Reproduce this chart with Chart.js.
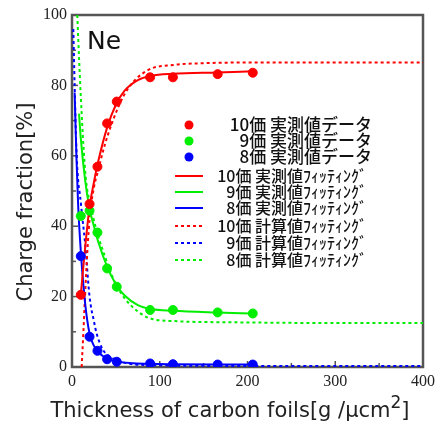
<!DOCTYPE html>
<html>
<head>
<meta charset="utf-8">
<script src="https://cdn.jsdelivr.net/npm/chart.js@4.4.1/dist/chart.umd.min.js"></script>
<style>
  html, body { margin: 0; padding: 0; background: #fff; }
  #wrap { width: 440px; height: 423px; }
</style>
</head>
<body>
<div id="wrap"><canvas id="myChart" width="440" height="423"></canvas></div>
<script>
// measured thickness of the foils
const thickness = [10, 20, 29, 40, 51, 89, 115, 166, 206];
const measured10 = [20.5, 46.3, 56.9, 69.2, 75.4, 82.3, 82.3, 83.2, 83.6];
const measured9 = [42.9, 44.4, 38.2, 28.0, 22.8, 16.2, 16.2, 15.5, 15.2];
const measured8 = [31.5, 8.6, 4.6, 2.2, 1.5, 1.0, 0.8, 0.7, 0.7];

// fitting of measured values (solid)
const fit10X = [10, 15, 20, 25, 30, 40, 50, 60, 75, 90, 115, 165, 206];
const fit10Y = [20.5, 34, 45.5, 52.5, 58.5, 68, 74.5, 78.5, 81.5, 82.7, 83.3, 83.7, 84];
const fit9X = [8, 10, 15, 20, 25, 30, 40, 50, 60, 75, 90, 115, 165, 206];
const fit9Y = [72, 65, 53, 45, 40, 35.5, 28.5, 23.5, 20.3, 17.6, 16.5, 16, 15.5, 15.2];
const fit8X = [3, 5, 7, 10, 15, 20, 25, 30, 40, 50, 70, 90, 115, 165, 206];
const fit8Y = [78, 60, 46, 33, 18, 9.5, 6, 4.2, 2.4, 1.6, 1.1, 0.9, 0.8, 0.7, 0.7];

// fitting of calculated values (dotted)
const calc10X = [11, 13, 16, 20, 25, 30, 35, 41, 53, 65, 87, 115, 150, 200, 300, 400];
const calc10Y = [0, 10, 26, 42, 51, 56, 61, 66, 74, 79.5, 84.4, 85.8, 86.3, 86.5, 86.5, 86.5];
const calc9X = [1.5, 3, 5, 7, 9, 12, 15, 20, 25, 28, 35, 45, 55, 70, 100, 200, 400];
const calc9Y = [96, 80, 62, 53, 49, 42, 35, 20, 13, 9.6, 5, 2.7, 1.5, 0.8, 0.5, 0.3, 0.3];
const calc8X = [6, 8, 10, 13, 16, 20, 24, 30, 34, 43, 50, 60, 75, 89, 120, 183, 300, 400];
const calc8Y = [100, 88, 77, 63, 53, 47, 42.7, 37, 34, 27.6, 23.5, 19.5, 15.8, 13.8, 13, 12.7, 12.5, 12.5];

const legendLabels = [
  "10価 実測値データ", "9価 実測値データ", "8価 実測値データ",
  "10価 実測値ﾌｨｯﾃｨﾝｸﾞ", "9価 実測値ﾌｨｯﾃｨﾝｸﾞ", "8価 実測値ﾌｨｯﾃｨﾝｸﾞ",
  "10価 計算値ﾌｨｯﾃｨﾝｸﾞ", "9価 計算値ﾌｨｯﾃｨﾝｸﾞ", "8価 計算値ﾌｨｯﾃｨﾝｸﾞ",
];

const RED = "#ff0000";
const GREEN = "#00ee00";
const BLUE = "#0000ff";
const TITLE_FONT = "'DejaVu Sans', 'Liberation Sans', sans-serif";

function pts(xs, ys) {
  return xs.map((x, i) => ({ x: x, y: ys[i] }));
}

function dots(xs, ys, color, label) {
  return {
    label: label,
    data: pts(xs, ys),
    showLine: false,
    pointRadius: 4.5,
    pointBackgroundColor: color,
    pointBorderColor: color,
    borderColor: color,
    backgroundColor: color,
  };
}

function curve(xs, ys, color, label, dash) {
  return {
    label: label,
    data: pts(xs, ys),
    showLine: true,
    pointRadius: 0,
    borderColor: color,
    backgroundColor: color,
    borderWidth: 2,
    borderDash: dash,
    cubicInterpolationMode: "monotone",
    fill: false,
  };
}

const datasets = [
  dots(thickness, measured10, RED, legendLabels[0]),
  dots(thickness, measured9, GREEN, legendLabels[1]),
  dots(thickness, measured8, BLUE, legendLabels[2]),
  curve(fit10X, fit10Y, RED, legendLabels[3], []),
  curve(fit9X, fit9Y, GREEN, legendLabels[4], []),
  curve(fit8X, fit8Y, BLUE, legendLabels[5], []),
  curve(calc10X, calc10Y, RED, legendLabels[6], [3, 3]),
  curve(calc9X, calc9Y, BLUE, legendLabels[7], [3, 3]),
  curve(calc8X, calc8Y, GREEN, legendLabels[8], [3, 3]),
];

// frame and inward tick marks
const framePlugin = {
  id: "frame",
  beforeDatasetsDraw(chart) {
    const { ctx, chartArea: a, scales } = chart;
    ctx.save();
    ctx.strokeStyle = "#555";
    ctx.lineWidth = 1.5;
    for (let v = 0; v <= 100; v += 10) {
      const py = scales.y.getPixelForValue(v);
      const len = v % 20 === 0 ? 6 : 4;
      ctx.beginPath();
      ctx.moveTo(a.left, py);
      ctx.lineTo(a.left + len, py);
      ctx.stroke();
    }
    for (let v = 0; v <= 400; v += 50) {
      const px = scales.x.getPixelForValue(v);
      const len = v % 100 === 0 ? 6 : 4;
      ctx.beginPath();
      ctx.moveTo(px, a.bottom);
      ctx.lineTo(px, a.bottom - len);
      ctx.stroke();
    }
    ctx.lineWidth = 2.5;
    ctx.strokeStyle = "#555";
    ctx.strokeRect(a.left, a.top, a.right - a.left, a.bottom - a.top);
    ctx.restore();
  },
};

// titles, "Ne" label and legend
const textPlugin = {
  id: "texts",
  afterDraw(chart) {
    const { ctx, chartArea: a } = chart;
    ctx.save();
    ctx.fillStyle = "#111";

    ctx.font = "25px " + TITLE_FONT;
    ctx.textBaseline = "alphabetic";
    ctx.textAlign = "left";
    ctx.fillText("Ne", 87, 49);

    // y title
    ctx.save();
    ctx.translate(32, (a.top + a.bottom) / 2 + 11);
    ctx.rotate(-Math.PI / 2);
    ctx.textAlign = "center";
    ctx.font = "21px " + TITLE_FONT;
    ctx.fillStyle = "#222";
    ctx.fillText("Charge fraction[%]", 0, 0);
    ctx.restore();

    // x title with superscript
    ctx.font = "21px " + TITLE_FONT;
    ctx.fillStyle = "#222";
    const main = "Thickness of carbon foils[g /μcm";
    const wMain = ctx.measureText(main).width;
    ctx.font = "17px " + TITLE_FONT;
    const wSup = ctx.measureText("2").width;
    ctx.font = "21px " + TITLE_FONT;
    const wEnd = ctx.measureText("]").width;
    const total = wMain + wSup + wEnd;
    const x0 = 230 - total / 2;
    const base = 417;
    ctx.fillText(main, x0, base);
    ctx.font = "17px " + TITLE_FONT;
    ctx.fillText("2", x0 + wMain, base - 9);
    ctx.font = "21px " + TITLE_FONT;
    ctx.fillText("]", x0 + wMain + wSup, base);

    // legend
    const rows = [125, 141, 157, 176, 192, 208, 226, 243, 260];
    ctx.textBaseline = "middle";
    ctx.textAlign = "right";
    chart.data.datasets.forEach((ds, i) => {
      const y = rows[i];
      if (ds.showLine === false) {
        ctx.beginPath();
        ctx.fillStyle = ds.pointBackgroundColor;
        ctx.arc(189, y, 4.5, 0, Math.PI * 2);
        ctx.fill();
      } else {
        ctx.beginPath();
        ctx.strokeStyle = ds.borderColor;
        ctx.lineWidth = 2;
        ctx.setLineDash(ds.borderDash || []);
        ctx.moveTo(175, y);
        ctx.lineTo(203, y);
        ctx.stroke();
        ctx.setLineDash([]);
      }
      ctx.fillStyle = "#111";
      ctx.font = (i < 3 ? "500 17px" : "500 16px") + " 'Noto Sans CJK JP', sans-serif";
      ctx.fillText(ds.label, i < 3 ? 372 : 367, y);
    });
    ctx.restore();
  },
};

Chart.defaults.font.family = "'Liberation Serif', 'Times New Roman', serif";
Chart.defaults.font.size = 16;
Chart.defaults.color = "#222";

const ctx = document.getElementById("myChart");
const myChart = new Chart(ctx, {
  type: "scatter",
  data: { datasets: datasets },
  options: {
    responsive: false,
    animation: false,
    events: [],
    layout: { padding: { top: 15, right: 16, left: 0, bottom: 0 } },
    plugins: {
      legend: { display: false },
      tooltip: { enabled: false },
    },
    scales: {
      x: {
        type: "linear",
        min: 0,
        max: 400,
        ticks: { stepSize: 100, padding: 5 },
        grid: { display: false, drawTicks: false },
        border: { display: false },
        afterFit(scale) { scale.height = 56; },
      },
      y: {
        type: "linear",
        min: 0,
        max: 100,
        ticks: { stepSize: 20, padding: 5 },
        grid: { display: false, drawTicks: false },
        border: { display: false },
        afterFit(scale) { scale.width = 72; },
      },
    },
  },
  plugins: [framePlugin, textPlugin],
});
</script>
</body>
</html>
